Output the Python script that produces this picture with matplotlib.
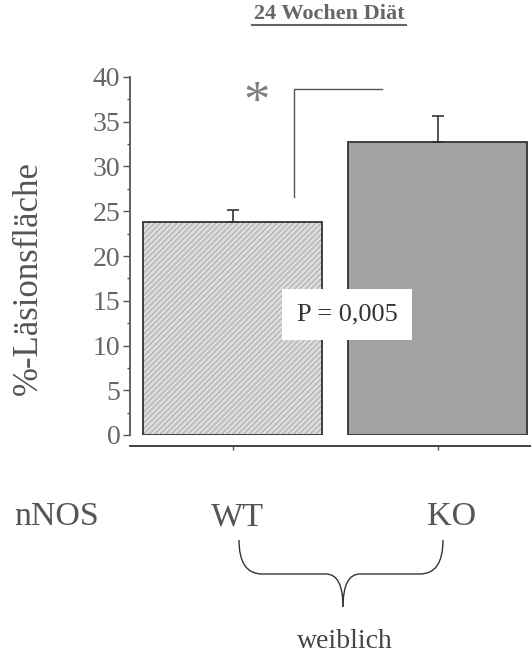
import numpy as np
import matplotlib
matplotlib.use("Agg")
import matplotlib.pyplot as plt
from matplotlib.path import Path
from matplotlib.patches import PathPatch
from matplotlib.ticker import MultipleLocator

plt.rcParams['font.family'] = ['Liberation Serif', 'DejaVu Serif']

groups = ['WT', 'KO']
means = [23.8, 32.7]
errors = [1.3, 2.9]
p_text = 'P = 0,005'
title = '24 Wochen Diät'
ylabel = '%-Läsionsfläche'

W, H = 531, 660
fig = plt.figure(figsize=(W / 100, H / 100), dpi=100)

# axes placed in pixel terms: y=0 at 435px, y=40 at 77px
ax = fig.add_axes([130 / W, (H - 435) / H, 1 - 130 / W, (435 - 77) / H])
ax.set_ylim(0, 40)
ax.set_xlim(-0.5, 1.456)

x = np.arange(len(groups))
bw = 0.873
ax.bar(x[0], means[0], bw, color='#dedede', edgecolor='#b4b4b4', hatch='//////', linewidth=0)
ax.bar(x[1], means[1], bw, color='#a3a3a3', linewidth=0)
ax.bar(x, means, bw, fill=False, edgecolor='#333333', linewidth=1.3)
ax.errorbar(x, means, yerr=[[0, 0], errors], fmt='none', ecolor='#333333',
            elinewidth=1.2, capsize=4, capthick=1.2)

# significance bracket
ax.plot([0.3, 0.3, 0.73], [26.6, 38.7, 38.7], color='#555555', lw=1.0)
ax.text(0.12, 37.0, '*', ha='center', va='center', fontsize=38, color='#808080')
ax.text(0.56, 13.5, p_text, ha='center', va='center', fontsize=19, color='#333333',
        bbox=dict(boxstyle='square,pad=0.55', fc='white', ec='none'))

for s in ['top', 'right']:
    ax.spines[s].set_visible(False)
ax.spines['bottom'].set_position(('outward', 8))
ax.spines['bottom'].set_color('#333333')
ax.spines['bottom'].set_linewidth(1.3)
ax.spines['left'].set_color('#555555')
ax.spines['left'].set_linewidth(1.3)
ax.yaxis.set_major_locator(MultipleLocator(5))
ax.yaxis.set_minor_locator(MultipleLocator(2.5))
ax.tick_params(axis='y', which='major', length=5, width=1, color='#555555',
               labelsize=20, labelcolor='#666666', pad=2)
ax.tick_params(axis='y', which='minor', length=2.5, width=1, color='#555555')
ax.set_xticks(x)
ax.set_xticklabels([])
ax.tick_params(axis='x', length=3, width=1, color='#555555')

fig.text(28 / W, 1 - 278 / H, ylabel, rotation=90, ha='center', va='center',
         fontsize=25, color='#555555')
fig.text(329 / W, 1 - 14 / H, title, ha='center', va='center', fontsize=16,
         fontweight='bold', color='#666666')
fig.add_artist(plt.Line2D([252 / W, 406 / W], [1 - 25 / H, 1 - 25 / H],
                          color='#666666', lw=1.5))

# group labels and brace
base = 1 - 525 / H
fig.text(57 / W, base, 'nNOS', ha='center', va='baseline', fontsize=24.5, color='#555555')
fig.text(237 / W, base, groups[0], ha='center', va='baseline', fontsize=24.5, color='#555555')
fig.text(452 / W, base, groups[1], ha='center', va='baseline', fontsize=24.5, color='#555555')
fig.text(345 / W, 1 - 642 / H, 'weiblich', ha='center', va='center', fontsize=20, color='#444444')

ov = fig.add_axes([0, 0, 1, 1], facecolor='none')
ov.set_xlim(0, W)
ov.set_ylim(H, 0)
ov.axis('off')
left = Path([(239, 540), (239, 574), (262, 574), (326, 574), (343, 574), (343, 607)],
            [Path.MOVETO, Path.CURVE3, Path.CURVE3, Path.LINETO, Path.CURVE3, Path.CURVE3])
right = Path([(443, 540), (443, 574), (420, 574), (360, 574), (343, 574), (343, 607)],
             [Path.MOVETO, Path.CURVE3, Path.CURVE3, Path.LINETO, Path.CURVE3, Path.CURVE3])
for p in (left, right):
    ov.add_patch(PathPatch(p, fill=False, ec='#333333', lw=1.0))

fig.savefig('out.png', dpi=100)
